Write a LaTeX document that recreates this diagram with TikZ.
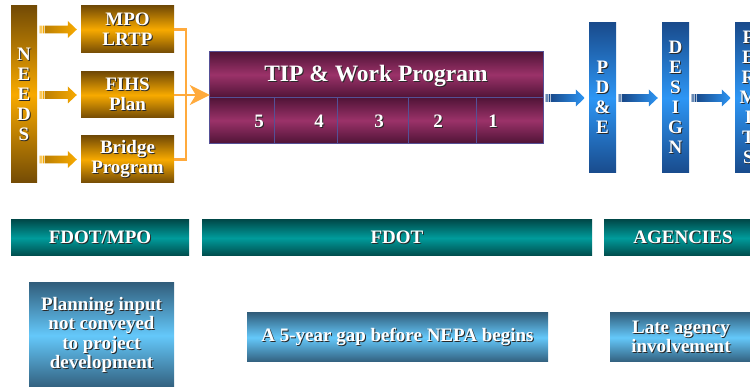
\documentclass[tikz,border=0pt]{standalone}
\usepackage{fontspec}
\setmainfont{Liberation Serif}
\usetikzlibrary{calc,arrows.meta}
\definecolor{goldD}{RGB}{115,75,5}
\definecolor{goldL}{RGB}{248,170,0}
\definecolor{olinec}{RGB}{255,170,60}
\definecolor{purD}{RGB}{80,20,55}
\definecolor{purL}{RGB}{155,50,105}
\definecolor{purB}{RGB}{85,80,150}
\definecolor{bluD}{RGB}{25,75,140}
\definecolor{bluL}{RGB}{45,150,245}
\definecolor{tealD}{RGB}{0,75,75}
\definecolor{tealL}{RGB}{0,155,155}
\definecolor{skyD}{RGB}{50,95,125}
\definecolor{skyL}{RGB}{100,200,250}
\definecolor{shd}{RGB}{40,40,40}
\newcommand\sh[1]{\leavevmode\rlap{\kern1pt\raisebox{-1pt}{\color{shd}#1}}#1}
% fat striped arrow: #1 start, #2 end, #3 shade options, #4 stripe colour
\newcommand\fatarrow[4]{%
  \fill[#4] let \p1=(#1) in
    (\x1+2.5pt,\y1-3.8pt) rectangle ++(0.9pt,7.6pt)
    (\x1+4.1pt,\y1-3.8pt) rectangle ++(0.9pt,7.6pt)
    (\x1+5.7pt,\y1-3.8pt) rectangle ++(0.9pt,7.6pt);
  \shade[#3] let \p1=(#1), \p2=(#2) in
    (\x1+7.3pt,\y1-3.8pt) -- (\x2-13pt,\y1-3.8pt) -- (\x2-13pt,\y1-8.5pt)
    -- (\x2-4pt,\y1) -- (\x2-13pt,\y1+8.5pt) -- (\x2-13pt,\y1+3.8pt)
    -- (\x1+7.3pt,\y1+3.8pt) -- cycle;
}
\begin{document}
\begin{tikzpicture}[x=1pt,y=-1pt,
  box/.style={inner sep=0pt, text=white, align=center,
    font=\fontsize{19}{19.5}\selectfont\bfseries},
  vbar/.style={box, font=\fontsize{19}{20}\selectfont\bfseries},
  goldbox/.style={top color=goldD, bottom color=goldD, middle color=goldL},
  bluebox/.style={top color=bluD, bottom color=bluD, middle color=bluL},
  tealbox/.style={top color=tealD, bottom color=tealD, middle color=tealL},
  skybox/.style={top color=skyD, bottom color=skyD, middle color=skyL},
  purshade/.style={top color=purD, bottom color=purD, middle color=purL},
  goldarrow/.style={left color=goldD!45!goldL, right color=goldL},
  bluearrow/.style={left color=bluD, right color=bluL},
  oline/.style={draw=olinec, line width=2.4pt},
  tipline/.style={draw=purB, line width=0.8pt},
  num/.style={box, anchor=base},
]
\useasboundingbox (0,0) rectangle (750,387);
\clip (0,0) rectangle (750,387);

% NEEDS and planning boxes
\node[vbar, goldbox, minimum width=26pt, minimum height=177pt] (needs) at (24,94.5)
  {\sh{N}\\\sh{E}\\\sh{E}\\\sh{D}\\\sh{S}};
\node[box, goldbox, minimum width=93pt, minimum height=47pt] (mpo) at (127.5,29.5)
  {\sh{MPO}\\\sh{LRTP}};
\node[box, goldbox, minimum width=93pt, minimum height=46pt] (fihs) at (127.5,95)
  {\sh{FIHS}\\\sh{Plan}};
\node[box, goldbox, minimum width=93pt, minimum height=47pt] (bridge) at (127.5,159.5)
  {\sh{Bridge}\\\sh{Program}};

\fatarrow{needs.east|-mpo.west}{mpo.west}{goldarrow}{goldL}
\fatarrow{needs.east|-fihs.west}{fihs.west}{goldarrow}{goldL}
\fatarrow{needs.east|-bridge.west}{bridge.west}{goldarrow}{goldL}

% TIP box
\node[inner sep=0pt, minimum width=333pt, minimum height=91pt] (tip) at (376.5,97.5) {};
\shade[purshade] (tip.north west) rectangle (tip.east);
\shade[purshade] (tip.west) rectangle (tip.south east);
\draw[tipline] (tip.north west) rectangle (tip.south east);
\draw[tipline] (tip.west) -- (tip.east);
\draw[tipline] ($(tip.south west)+(65,0)$) -- ($(tip.west)+(65,0)$);
\draw[tipline] ($(tip.south west)+(128,0)$) -- ($(tip.west)+(128,0)$);
\draw[tipline] ($(tip.south west)+(199,0)$) -- ($(tip.west)+(199,0)$);
\draw[tipline] ($(tip.south west)+(267,0)$) -- ($(tip.west)+(267,0)$);
\node[box, anchor=base, font=\fontsize{23.5}{24}\selectfont\bfseries] (tiptitle) at (376,82)
  {\sh{TIP \& Work Program}};
\node[num] (n5) at (259,128) {\sh{5}};
\node[num] (n4) at (319,128) {\sh{4}};
\node[num] (n3) at (379,128) {\sh{3}};
\node[num] (n2) at (438,128) {\sh{2}};
\node[num] (n1) at (493,128) {\sh{1}};

% orange connectors
\coordinate (bus) at (186,94);
\draw[oline, line join=miter] (mpo.east) -| (bus) |- (bridge.east);
\draw[oline, -{Stealth[length=20pt, width=20pt, inset=6pt]}] (fihs.east) -- (fihs.east -| tip.west);

% project development bars
\node[vbar, bluebox, minimum width=27pt, minimum height=150pt] (pde) at (602.5,98)
  {\sh{P}\\\sh{D}\\\sh{\&}\\\sh{E}};
\node[vbar, bluebox, minimum width=27pt, minimum height=150pt] (design) at (675.5,98)
  {\sh{D}\\\sh{E}\\\sh{S}\\\sh{I}\\\sh{G}\\\sh{N}};
\node[vbar, bluebox, minimum width=27pt, minimum height=150pt] (permits) at (748.5,98)
  {\sh{P}\\\sh{E}\\\sh{R}\\\sh{M}\\\sh{I}\\\sh{T}\\\sh{S}};

\fatarrow{tip.east|-pde.west}{pde.west}{bluearrow}{bluD}
\fatarrow{pde.east}{design.west}{bluearrow}{bluD}
\fatarrow{design.east}{permits.west}{bluearrow}{bluD}

% responsibility bars
\node[box, tealbox, minimum width=178pt, minimum height=36pt] (fdotmpo) at (100,238) {\sh{FDOT/MPO}};
\node[box, tealbox, minimum width=390pt, minimum height=36pt] (fdot) at (397,238) {\sh{FDOT}};
\node[box, tealbox, minimum width=158pt, minimum height=36pt] (agencies) at (683,238) {\sh{AGENCIES}};

% issue boxes
\node[box, skybox, minimum width=145pt, minimum height=105pt] (planning) at (101.5,335.5)
  {\sh{Planning input}\\\sh{not conveyed}\\\sh{to project}\\\sh{development}};
\node[box, skybox, minimum width=301pt, minimum height=49pt] (gap) at (397.5,337.5)
  {\sh{A 5-year gap before NEPA begins}};
\node[box, skybox, minimum width=142pt, minimum height=49pt] (late) at (681,337.5)
  {\sh{Late agency}\\\sh{involvement}};
\end{tikzpicture}
\end{document}
